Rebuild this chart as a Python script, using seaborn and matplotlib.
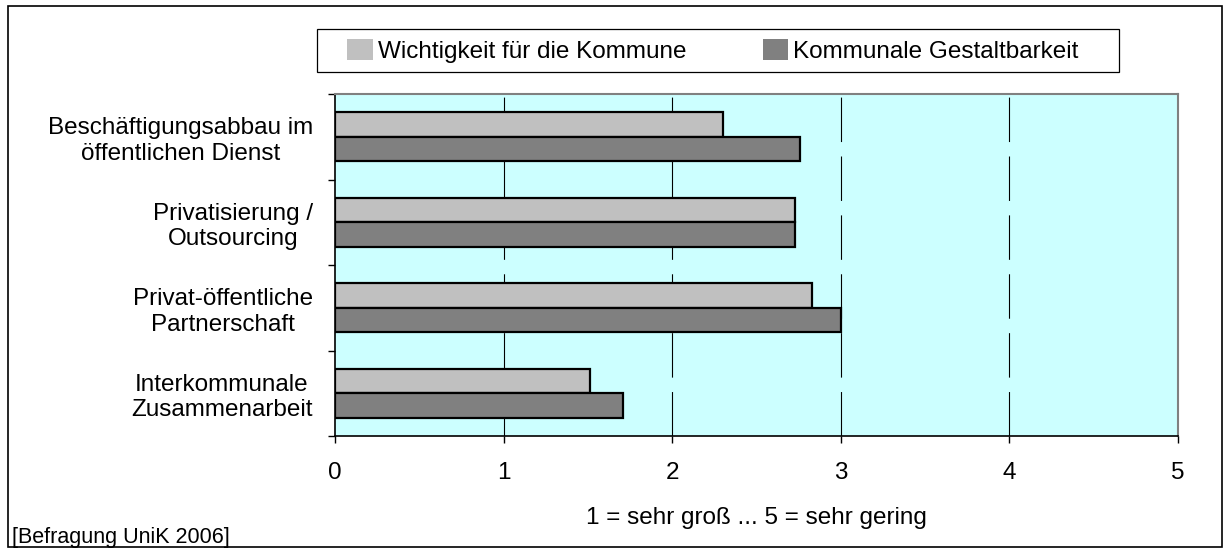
import matplotlib
matplotlib.use('Agg')
import matplotlib.pyplot as plt
from matplotlib.patches import Patch, Rectangle
import seaborn as sns
import pandas as pd

# values
categories = ['Beschäftigungsabbau im\nöffentlichen Dienst',
              'Privatisierung /\nOutsourcing',
              'Privat-öffentliche\nPartnerschaft',
              'Interkommunale\nZusammenarbeit']
wichtigkeit = [2.30, 2.73, 2.83, 1.51]
gestaltbarkeit = [2.76, 2.73, 3.00, 1.71]
series_names = ['Wichtigkeit für die Kommune', 'Kommunale Gestaltbarkeit']
series_colors = ['#C0C0C0', '#808080']
x_ticks = [0, 1, 2, 3, 4, 5]
x_label = '1 = sehr groß ... 5 = sehr gering'
source_note = '[Befragung UniK 2006]'

df = pd.DataFrame({
    'Kategorie': categories * 2,
    'Wert': wichtigkeit + gestaltbarkeit,
    'Reihe': [series_names[0]] * len(categories) + [series_names[1]] * len(categories),
})

sns.set_style('white')
plt.rcParams['font.family'] = ['Liberation Sans', 'DejaVu Sans']
plt.rcParams['text.color'] = 'black'
plt.rcParams['axes.labelcolor'] = 'black'
plt.rcParams['xtick.color'] = 'black'
plt.rcParams['ytick.color'] = 'black'

W, H = 1231, 554
fig = plt.figure(figsize=(W / 100, H / 100), dpi=100)
ax = fig.add_axes([335 / W, 1 - 436 / H, (1178 - 335) / W, (436 - 94) / H])
ax.set_facecolor('#CCFFFF')

sns.barplot(data=df, x='Wert', y='Kategorie', hue='Reihe', orient='h',
            palette=series_colors, width=0.57, gap=0, edgecolor='black',
            linewidth=1.6, saturation=1, legend=True, ax=ax, zorder=3)

ax.set_xlim(0, 5)
ax.set_ylim(len(categories) - 0.5, -0.5)
ax.set_xticks(x_ticks)
ax.set_xticklabels([str(t) for t in x_ticks], fontsize=17.5)
ax.tick_params(axis='x', direction='out', length=5, width=1, pad=14,
               bottom=True, color='black')

# category ticks sit on the boundaries between groups
ax.set_yticks(range(len(categories)))
ax.set_yticklabels(categories, fontsize=17.5, multialignment='center')
ax.set_yticks([i - 0.5 for i in range(len(categories) + 1)], minor=True)
ax.tick_params(axis='y', which='major', length=0, pad=16)
ax.tick_params(axis='y', which='minor', direction='out', length=5, width=1,
               left=True, color='black')

ax.set_ylabel('')
ax.set_xlabel(x_label, fontsize=17.5, va='center')
ax.xaxis.set_label_coords(0.5, -0.24)

# dashed vertical grid
for v in x_ticks[1:-1]:
    ax.axvline(v, color='black', lw=0.8, linestyle=(0, (40, 13)), zorder=1)

for side in ['left', 'bottom']:
    ax.spines[side].set_color('black')
    ax.spines[side].set_linewidth(1.2)
for side in ['top', 'right']:
    ax.spines[side].set_color('#808080')
    ax.spines[side].set_linewidth(1.5)

# legend without edges on the swatches, inside a separate box
ax.get_legend().remove()
handles = [Patch(facecolor=c, edgecolor='none') for c in series_colors]
fig.legend(handles, series_names, loc='center left',
           bbox_to_anchor=(335 / W, 1 - 51 / H), ncol=2, frameon=False,
           fontsize=17.5, handlelength=1.05, handleheight=0.95,
           handletextpad=0.2, columnspacing=3.15, borderpad=0)
fig.add_artist(Rectangle((317 / W, 1 - 72 / H), 802 / W, 43 / H,
                         transform=fig.transFigure, fill=False,
                         edgecolor='black', lw=0.9))

# outer frame and source note
fig.add_artist(Rectangle((8 / W, 1 - 547 / H), 1214 / W, 541 / H,
                         transform=fig.transFigure, fill=False,
                         edgecolor='black', lw=1.2))
fig.text(12 / W, 1 - 537 / H, source_note, fontsize=15.5, va='center', ha='left')

fig.savefig('out.png', dpi=100)
